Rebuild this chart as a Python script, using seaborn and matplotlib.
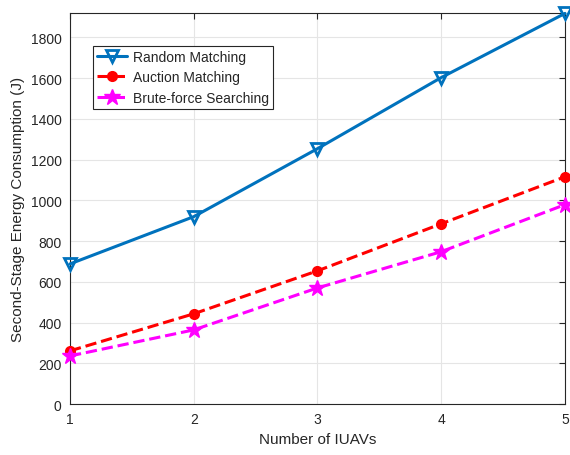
import matplotlib
matplotlib.use("Agg")
import matplotlib.pyplot as plt
import seaborn as sns
import pandas as pd

iuavs = [1, 2, 3, 4, 5]
random_matching = [688, 920, 1254, 1603, 1918]
auction_matching = [261, 443, 654, 885, 1116]
brute_force = [236, 364, 570, 748, 979]
series_names = ["Random Matching", "Auction Matching", "Brute-force Searching"]

sns.set_theme(style="whitegrid")
plt.rcParams['font.family'] = ['Liberation Sans', 'DejaVu Sans']

df = pd.DataFrame({
    "x": iuavs * 3,
    "y": random_matching + auction_matching + brute_force,
    "s": [series_names[0]] * 5 + [series_names[1]] * 5 + [series_names[2]] * 5,
})

fig = plt.figure(figsize=(5.7, 4.56), dpi=100)
ax = fig.add_axes([0.1228, 0.1118, 0.8684, 0.8575])

styles = {
    series_names[0]: dict(color="#0072BD", ls="-", marker="v", mfc="none", ms=9, mew=2, lw=2.2),
    series_names[1]: dict(color="#FF0000", ls="--", marker="o", mfc="#FF0000", ms=6.5, mew=1.5, lw=2.2),
    series_names[2]: dict(color="#FF00FF", ls="--", marker="*", mfc="#FF00FF", ms=12, mew=1, lw=2.2),
}
for name in series_names:
    sub = df[df.s == name]
    st = styles[name]
    sns.lineplot(data=sub, x="x", y="y", ax=ax, color=st["color"], linestyle=st["ls"],
                 marker=st["marker"], markerfacecolor=st["mfc"], markeredgecolor=st["color"],
                 markersize=st["ms"], markeredgewidth=st["mew"], linewidth=st["lw"],
                 label=name, clip_on=False, zorder=3)

ax.set_xlim(1, 5)
ax.set_ylim(0, 1920)
ax.set_xticks(iuavs)
ax.set_yticks(range(0, 1801, 200))
ax.set_xlabel("Number of IUAVs", fontsize=11, color="#262626")
ax.set_ylabel("Second-Stage Energy Consumption (J)", fontsize=11, color="#262626")
ax.tick_params(direction="in", top=True, right=True, labelsize=10, colors="#262626",
               length=4, width=0.8, pad=6)
ax.grid(True, color="#E5E5E5", linewidth=0.8)
for sp in ax.spines.values():
    sp.set_color("#262626")
    sp.set_linewidth(0.8)
ax.set_facecolor("white")

leg = ax.legend(loc="upper left", bbox_to_anchor=(0.046, 0.916), fontsize=10,
                frameon=True, fancybox=False, edgecolor="#262626", framealpha=1,
                borderpad=0.3, labelspacing=0.45, handlelength=2.2, handletextpad=0.4,
                borderaxespad=0)
leg.get_frame().set_linewidth(0.8)

fig.savefig("out.png", dpi=100, facecolor="white")
